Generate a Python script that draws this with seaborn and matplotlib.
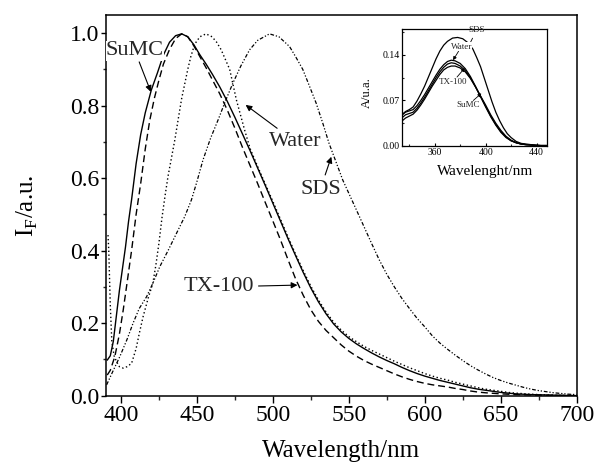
import matplotlib
matplotlib.use("Agg")
import matplotlib.pyplot as plt
from matplotlib.ticker import MultipleLocator, FormatStrFormatter
import seaborn as sns

# ---------------- main spectra (emission, normalised) ----------------
sumc_x = [391, 393, 395, 397, 399, 401, 403, 405, 407, 410, 413, 416, 420, 424, 428, 432, 436, 440,
          444, 448, 452, 456, 460, 465, 470, 475, 480, 485, 490, 495, 500, 505, 510, 515, 520, 525,
          530, 535, 540, 545, 550, 555, 560, 565, 570, 575, 580, 585, 590, 595, 600, 605, 610, 615,
          620, 625, 630, 635, 640, 645, 650, 655, 660, 670, 680, 690, 700]
sumc_y = [0.098, 0.11, 0.15, 0.22, 0.29, 0.35, 0.41, 0.48, 0.54, 0.64, 0.72, 0.78, 0.843, 0.89, 0.94,
          0.975, 0.993, 0.998, 0.99, 0.968, 0.94, 0.915, 0.888, 0.852, 0.812, 0.768, 0.722, 0.676, 0.628,
          0.58, 0.531, 0.482, 0.433, 0.386, 0.34, 0.297, 0.259, 0.226, 0.198, 0.176, 0.158, 0.143, 0.13,
          0.118, 0.107, 0.097, 0.088, 0.078, 0.069, 0.061, 0.054, 0.048, 0.042, 0.037, 0.032, 0.027,
          0.022, 0.018, 0.015, 0.012, 0.009, 0.007, 0.005, 0.003, 0.002, 0.001, 0.0]

tx_x = [391, 393, 396, 399, 401.5, 404, 407, 410, 413, 416, 419, 422, 425, 428, 432, 436, 440, 444,
        448, 452, 456, 460, 465, 470, 475, 480, 485, 490, 495, 500, 505, 510, 515, 520, 525, 530, 535,
        540, 545, 550, 555, 560, 565, 570, 575, 580, 585, 590, 595, 600, 605, 610, 615, 620, 625, 630,
        635, 640, 650, 660, 670, 680, 700]
tx_y = [0.057, 0.07, 0.108, 0.17, 0.236, 0.31, 0.40, 0.50, 0.585, 0.68, 0.76, 0.82, 0.87, 0.915, 0.955,
        0.985, 0.998, 0.99, 0.965, 0.935, 0.905, 0.873, 0.833, 0.788, 0.738, 0.685, 0.635, 0.585, 0.533,
        0.482, 0.43, 0.375, 0.322, 0.277, 0.237, 0.205, 0.18, 0.16, 0.14, 0.123, 0.109, 0.097, 0.087,
        0.078, 0.069, 0.06, 0.052, 0.045, 0.039, 0.034, 0.030, 0.027, 0.024, 0.020, 0.017, 0.013, 0.010,
        0.008, 0.005, 0.003, 0.002, 0.001, 0.0]

water_x = [391.5, 392, 393, 394, 395.5, 397, 399, 401.5, 404, 407, 410, 412, 414.6, 418, 421, 423, 425,
           427, 429, 431, 433, 435.5, 438, 440, 442, 444, 446, 448.6, 452, 456, 460, 463, 466, 471.6,
           476, 481.4, 485, 490, 495, 500, 505, 510, 515, 520, 525, 530, 535, 540, 545, 550, 555, 560,
           565, 570, 575, 580, 585, 590, 595, 600, 605, 610, 615, 620, 625, 630, 635, 640, 645, 650,
           655, 660, 670, 680, 690, 700]
water_y = [0.443, 0.40, 0.25, 0.15, 0.11, 0.095, 0.08, 0.076, 0.08, 0.089, 0.13, 0.17, 0.218, 0.27, 0.31,
           0.36, 0.42, 0.49, 0.55, 0.605, 0.65, 0.706, 0.77, 0.82, 0.86, 0.90, 0.935, 0.97, 0.99, 0.998,
           0.99, 0.975, 0.954, 0.90, 0.816, 0.733, 0.682, 0.632, 0.584, 0.536, 0.487, 0.438, 0.39, 0.345,
           0.302, 0.264, 0.231, 0.203, 0.181, 0.163, 0.149, 0.136, 0.125, 0.115, 0.105, 0.095, 0.086,
           0.077, 0.069, 0.061, 0.054, 0.048, 0.043, 0.037, 0.032, 0.027, 0.022, 0.018, 0.015, 0.012,
           0.009, 0.007, 0.004, 0.002, 0.001, 0.0]

sds_x = [390.6, 395, 399.3, 404, 408, 412, 416.9, 421, 425.6, 431, 436.6, 442, 446.4, 450, 454, 459,
         463.9, 469, 473.7, 479, 484.7, 490, 497.8, 504, 511, 515, 519.7, 524, 528.5, 533, 537, 542, 546,
         552, 557, 561, 565, 570, 575, 580, 585, 590, 595, 600, 605, 610, 615, 620, 625, 630, 635, 640,
         645, 650, 655, 660, 665, 670, 675, 680, 685, 690, 695, 700]
sds_y = [0.03, 0.07, 0.108, 0.155, 0.20, 0.24, 0.273, 0.31, 0.356, 0.40, 0.448, 0.494, 0.54, 0.59, 0.65,
         0.71, 0.76, 0.815, 0.862, 0.91, 0.954, 0.98, 0.998, 0.99, 0.963, 0.935, 0.90, 0.855, 0.807, 0.75,
         0.696, 0.64, 0.595, 0.54, 0.494, 0.457, 0.42, 0.375, 0.335, 0.30, 0.268, 0.24, 0.213, 0.19,
         0.165, 0.145, 0.128, 0.112, 0.097, 0.083, 0.071, 0.06, 0.05, 0.042, 0.035, 0.029, 0.023, 0.018,
         0.014, 0.011, 0.008, 0.006, 0.004, 0.003]

# ---------------- inset (absorption) ----------------
ins_x = [334, 337, 340, 343, 346, 349, 352, 355, 358, 361, 364, 367, 370, 373, 376, 380, 384, 388, 392,
         396, 400, 404, 408, 412, 416, 420, 424, 428, 432, 440, 448]
ins_sds_x = [334, 337, 340, 343, 346, 349, 352, 355, 358, 361, 364, 367, 370, 374, 378, 382, 386, 390,
             393, 396, 399, 402, 405, 408, 411, 414, 417, 420, 424, 428, 432, 436, 440, 448]
ins_sds = [0.048, 0.053, 0.056, 0.06, 0.069, 0.08, 0.092, 0.106, 0.12, 0.134, 0.146, 0.155, 0.161, 0.166,
           0.167, 0.165, 0.159, 0.149, 0.136, 0.122, 0.104, 0.086, 0.068, 0.052, 0.039, 0.028, 0.019,
           0.013, 0.007, 0.004, 0.003, 0.002, 0.001, 0.001]
ins_water = [0.047, 0.052, 0.054, 0.056, 0.062, 0.07, 0.079, 0.089, 0.099, 0.109, 0.118, 0.125, 0.130,
             0.132, 0.131, 0.127, 0.119, 0.107, 0.092, 0.076, 0.06, 0.045, 0.032, 0.021, 0.013, 0.008,
             0.005, 0.003, 0.002, 0.001, 0.0]
ins_tx = [0.043, 0.048, 0.05, 0.052, 0.058, 0.066, 0.075, 0.085, 0.095, 0.105, 0.114, 0.121, 0.126, 0.128,
          0.127, 0.123, 0.116, 0.105, 0.091, 0.076, 0.061, 0.046, 0.033, 0.022, 0.014, 0.008, 0.005,
          0.003, 0.002, 0.001, 0.0]
ins_sumc = [0.038, 0.043, 0.046, 0.049, 0.055, 0.063, 0.072, 0.082, 0.092, 0.101, 0.110, 0.117, 0.121,
            0.123, 0.123, 0.12, 0.114, 0.104, 0.091, 0.077, 0.063, 0.048, 0.035, 0.024, 0.015, 0.009,
            0.005, 0.003, 0.002, 0.001, 0.0]

sns.set_theme(style="ticks")
plt.rcParams["font.family"] = ["Liberation Serif", "DejaVu Serif"]
plt.rcParams["mathtext.fontset"] = "custom"
plt.rcParams["mathtext.rm"] = "Liberation Serif"

fig = plt.figure(figsize=(5.95, 4.66), dpi=100)
ax = fig.add_axes([0.1777, 0.1509, 0.7915, 0.8169])

k = "black"
sns.lineplot(x=sumc_x, y=sumc_y, ax=ax, color=k, lw=1.0, linestyle="-")
sns.lineplot(x=tx_x, y=tx_y, ax=ax, color=k, lw=1.0, linestyle=(0, (5, 2.8)))
sns.lineplot(x=water_x, y=water_y, ax=ax, color=k, lw=1.0, linestyle=(0, (1, 1.8)))
sns.lineplot(x=sds_x, y=sds_y, ax=ax, color=k, lw=0.9, linestyle=(0, (3, 1.5, 1, 1.5, 1, 1.5)))

ax.set_xlim(390, 700)
ax.set_ylim(0, 1.05)
ax.xaxis.set_major_locator(MultipleLocator(50))
ax.xaxis.set_minor_locator(MultipleLocator(25))
ax.yaxis.set_major_locator(MultipleLocator(0.2))
ax.yaxis.set_minor_locator(MultipleLocator(0.1))
ax.yaxis.set_major_formatter(FormatStrFormatter("%.1f"))
ax.tick_params(axis="x", which="major", direction="out", length=5, width=1, labelsize=17, pad=2,
               colors=k)
ax.tick_params(axis="x", which="minor", direction="out", length=3.2, width=1)
ax.tick_params(axis="y", which="major", direction="out", length=3.5, width=1, labelsize=17, pad=1,
               colors=k)
ax.tick_params(axis="y", which="minor", direction="out", length=2.5, width=1)
for s in ax.spines.values():
    s.set_visible(True)
    s.set_linewidth(1.1)
    s.set_color(k)
ax.set_xlabel("Wavelength/nm", fontsize=18, labelpad=10, color=k)
ax.set_ylabel(r"I$_\mathregular{F}$/a.u.", fontsize=18, labelpad=22, color=k)

arw = dict(arrowstyle="-|>", color=k, lw=0.8, mutation_scale=9, shrinkA=1, shrinkB=0)
ax.annotate("SuMC", xy=(419.7, 0.838), xytext=(409.2, 0.951), fontsize=16, ha="center", va="center",
            arrowprops=arw, bbox=dict(fc="white", ec="none", pad=0.1))
ax.annotate("Water", xy=(482.1, 0.802), xytext=(514.9, 0.70), fontsize=16, ha="center", va="center",
            arrowprops=arw)
ax.annotate("SDS", xy=(538.5, 0.659), xytext=(531.3, 0.570), fontsize=16, ha="center", va="center",
            arrowprops=arw)
ax.annotate("TX-100", xy=(516.2, 0.305), xytext=(464.3, 0.30), fontsize=16, ha="center", va="center",
            arrowprops=arw)

# ---------------- inset ----------------
ins = fig.add_axes([0.6751, 0.6867, 0.2437, 0.2511])
sns.lineplot(x=ins_sds_x, y=ins_sds, ax=ins, color=k, lw=0.9)
sns.lineplot(x=ins_x, y=ins_water, ax=ins, color=k, lw=0.9)
sns.lineplot(x=ins_x, y=ins_tx, ax=ins, color=k, lw=0.9)
sns.lineplot(x=ins_x, y=ins_sumc, ax=ins, color=k, lw=0.9)
ins.set_xlim(334, 448)
ins.set_ylim(0, 0.18)
ins.xaxis.set_major_locator(MultipleLocator(40))
ins.xaxis.set_minor_locator(MultipleLocator(20))
ins.yaxis.set_major_locator(MultipleLocator(0.07))
ins.yaxis.set_minor_locator(MultipleLocator(0.035))
ins.yaxis.set_major_formatter(FormatStrFormatter("%.2f"))
ins.tick_params(which="major", direction="in", length=2.5, width=0.8, labelsize=7, pad=1.5, colors=k)
ins.tick_params(which="minor", direction="in", length=1.6, width=0.8)
for s in ins.spines.values():
    s.set_visible(True)
    s.set_linewidth(0.9)
    s.set_color(k)
ins.set_xlabel("")
ins.set_ylabel("")
fig.text(485 / 595, 1 - 171 / 466, "Wavelenght/nm", fontsize=11, ha="center", va="center", color=k)
fig.text(367 / 595, 1 - 93 / 466, "A/u.a.", fontsize=9, rotation=90, ha="center", va="center", color=k)

arw2 = dict(arrowstyle="-|>", color=k, lw=0.6, mutation_scale=5, shrinkA=0.5, shrinkB=0)
tb = dict(fc="white", ec="none", pad=0.05)
ins.annotate("SDS", xy=(386.2, 0.152), xytext=(392.8, 0.178), fontsize=6.5, ha="center", va="center",
             arrowprops=arw2, annotation_clip=False)
ins.annotate("Water", xy=(374.4, 0.132), xytext=(381, 0.153), fontsize=6.5, ha="center", va="center",
             arrowprops=arw2, bbox=tb)
ins.annotate("TX-100", xy=(383.6, 0.12), xytext=(374.4, 0.099), fontsize=6.5, ha="center", va="center",
             arrowprops=arw2, bbox=tb)
ins.annotate("SuMC", xy=(396.7, 0.081), xytext=(386.2, 0.063), fontsize=6.5, ha="center", va="center",
             arrowprops=arw2, bbox=tb)

fig.savefig("out.png", dpi=100)
